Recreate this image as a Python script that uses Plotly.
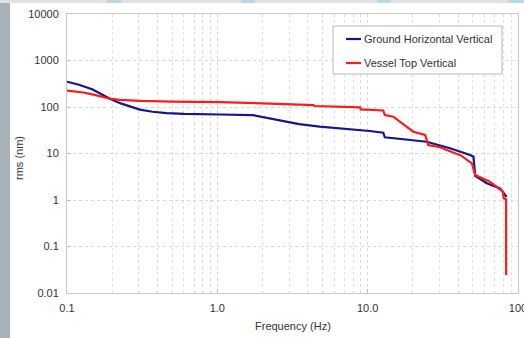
import plotly.graph_objects as go

# ---------------- data ----------------
ground_freq = [0.1, 0.12, 0.147, 0.17, 0.193, 0.23, 0.27, 0.306, 0.37, 0.46, 0.6, 0.77,
               1.04, 1.73, 2.2, 2.9, 3.5, 4.8, 8.0,
               10.3, 12.7, 13.0, 24.7, 35.3, 48.0, 50.6, 51.9, 62.0, 76.0, 82.0, 84.0]
ground_rms = [350, 300, 240, 190, 150, 118, 98, 88, 79, 74, 71, 69,
              69, 67, 58, 49, 43, 37.7, 33,
              30.5, 28, 22.3, 17.9, 13.0, 9.3, 8.5, 3.3, 2.29, 1.78, 1.28, 1.16]

vessel_freq = [0.1, 0.128, 0.15, 0.166, 0.19, 0.225, 0.306, 0.5, 0.77, 1.04, 2.0, 4.36, 4.42,
               8.9, 9.0, 12.1, 12.7, 13.0, 14.8, 20.1, 24.1, 25.3, 30.3, 39.2, 41.2, 49.3,
               51.9, 65.0, 74.1, 79.3, 80.3, 83.3, 83.4]
vessel_rms = [224, 205, 185, 170, 152, 142, 135, 131, 129, 127, 120, 110, 105,
              98.5, 89, 86, 84, 67, 61.8, 29.4, 25, 15.2, 13.6, 9.75, 9.3, 6.15,
              3.45, 2.47, 1.78, 1.51, 1.09, 1.035, 0.0244]

series_names = ["Ground Horizontal Vertical", "Vessel Top Vertical"]
series_colors = ["#15158c", "#ff1a1a"]

x_major = [0.1, 1, 10, 100]
x_labels = ["0.1", "1.0", "10.0", "100"]
x_minor = [m * d for d in (0.1, 1, 10) for m in range(2, 10)]
y_major = [0.01, 0.1, 1, 10, 100, 1000, 10000]
y_labels = ["0.01", "0.1", "1", "10", "100", "1000", "10000"]

# ---------------- figure ----------------
W, H = 524, 338
L, R, T, B = 67, 518, 14, 293


def px(xp):
    return (xp - L) / (R - L)


def py(yp):
    return (B - yp) / (B - T)


fig = go.Figure()
fig.add_trace(go.Scatter(x=ground_freq, y=ground_rms, mode="lines",
                         name=series_names[0],
                         line=dict(color=series_colors[0], width=2.2)))
fig.add_trace(go.Scatter(x=vessel_freq, y=vessel_rms, mode="lines",
                         name=series_names[1],
                         line=dict(color=series_colors[1], width=2.2)))

font_fam = "Liberation Sans, Arial, sans-serif"
axis_common = dict(
    type="log", showline=True, linecolor="#c8c8c8", linewidth=1, mirror=True,
    showgrid=True, gridcolor="#d8d8d8", griddash="dot", gridwidth=1,
    ticks="inside", ticklen=4, tickcolor="#c0c0c0",
    tickfont=dict(family=font_fam, size=11, color="#333"),
    zeroline=False, ticklabelstandoff=5, automargin=False,
    ticklabeloverflow="allow",
)

fig.update_xaxes(
    **axis_common,
    range=[-1, 2],
    tickmode="array", tickvals=x_major, ticktext=x_labels,
    minor=dict(tickmode="array", tickvals=x_minor, showgrid=True,
               gridcolor="#e0e0e0", griddash="dot", ticks=""),
)
fig.update_yaxes(
    **axis_common,
    range=[-2, 4],
    tickmode="array", tickvals=y_major, ticktext=y_labels,
)

shapes = []
# decorative background strips (left and top)
shapes.append(dict(type="rect", xref="paper", yref="paper", layer="below",
                   x0=px(0), x1=px(10), y0=py(H), y1=py(0),
                   fillcolor="#a7b1b7", line=dict(width=0)))
shapes.append(dict(type="rect", xref="paper", yref="paper", layer="below",
                   x0=px(0), x1=px(W), y0=py(3), y1=py(0),
                   fillcolor="#e2e2e2", line=dict(width=0)))
for a, b in [(107, 121), (241, 255), (377, 391), (508, 524)]:
    shapes.append(dict(type="rect", xref="paper", yref="paper", layer="below",
                       x0=px(a), x1=px(b), y0=py(3), y1=py(0),
                       fillcolor="#b9d9e8", line=dict(width=0)))

# legend box
shapes.append(dict(type="rect", xref="paper", yref="paper",
                   x0=px(333), x1=px(502), y0=py(74), y1=py(26),
                   fillcolor="white", line=dict(color="#b8b8b8", width=1)))
annotations = []
for i, (nm, col) in enumerate(zip(series_names, series_colors)):
    yy = 39 + 24 * i
    shapes.append(dict(type="line", xref="paper", yref="paper",
                       x0=px(346), x1=px(361), y0=py(yy), y1=py(yy),
                       line=dict(color=col, width=2.2)))
    annotations.append(dict(xref="paper", yref="paper", x=px(362), y=py(yy),
                            text=nm, showarrow=False, xanchor="left", yanchor="middle",
                            font=dict(family=font_fam, size=11, color="#333")))

# axis titles
annotations.append(dict(xref="paper", yref="paper", x=px(293), y=py(326),
                        text="Frequency (Hz)", showarrow=False,
                        xanchor="center", yanchor="middle",
                        font=dict(family=font_fam, size=11, color="#333")))
annotations.append(dict(xref="paper", yref="paper", x=px(19), y=py(158),
                        text="rms (nm)", showarrow=False, textangle=-90,
                        xanchor="center", yanchor="middle",
                        font=dict(family=font_fam, size=11, color="#333")))

fig.update_layout(
    width=W, height=H,
    margin=dict(l=L, r=W - R, t=T, b=H - B),
    paper_bgcolor="white", plot_bgcolor="white",
    showlegend=False,
    shapes=shapes, annotations=annotations,
)

fig.write_html("out.html",
               config={"displayModeBar": False},
               post_script="document.body.style.margin='0px';"
                           "document.body.style.overflow='hidden';")
